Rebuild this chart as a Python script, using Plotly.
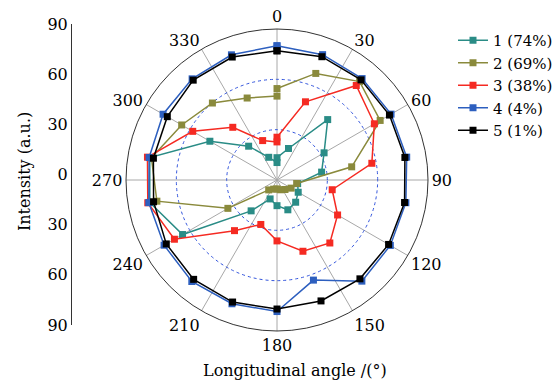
import plotly.graph_objects as go

theta = [0, 20, 40, 60, 80, 100, 120, 140, 160, 180, 200, 220, 240, 260, 280, 300, 320, 340, 360]
series_names = ["1 (74%)", "2 (69%)", "3 (38%)", "4 (4%)", "5 (1%)"]
s1 = [13.3, 20, 47, 32.4, 27, 12.5, 14.6, 17.3, 18.9, 15.3, 12, 24, 65, 77, 77, 46.2, 26.3, 14.4, 10.4]
s2 = [54.5, 67.6, 76.6, 71, 45.2, 11.9, 9.7, 7.4, 6.2, 5.3, 5.8, 7.7, 33.8, 72.7, 76, 65.6, 59.9, 52, 50]
s3 = [25.5, 49.6, 73.5, 67, 57.4, 33.4, 41.7, 49, 45.2, 36.3, 28.2, 39.4, 70.6, 78.2, 78.4, 58, 41, 25, 22.7]
s4 = [80, 79.5, 78.9, 78.5, 78.5, 78, 78, 78.7, 63.5, 78.4, 78.5, 79, 77.7, 77.6, 77.4, 78.4, 78.7, 79.4, 80]
s5 = [77, 78.2, 77.9, 77.4, 77.4, 77.2, 76.8, 76.9, 76.7, 76.9, 77.4, 77.3, 76.2, 74.7, 74.8, 75.5, 77.7, 78, 77]
colors = ["#2A8C86", "#8A8A3C", "#F52A22", "#2D5FBF", "#000000"]

angle_ticks = list(range(0, 360, 30))
left_tickvals = [-90, -60, -30, 0, 30, 60, 90]
left_ticktext = ["90", "60", "30", "0", "30", "60", "90"]

FONT = "DejaVu Serif"

fig = go.Figure()
for name, vals, col in zip(series_names, [s1, s2, s3, s4, s5], colors):
    fig.add_trace(go.Scatterpolar(
        r=vals, theta=theta, mode="lines+markers", name=name,
        line=dict(color=col, width=1.5),
        marker=dict(symbol="square", size=7, color=col),
    ))

# separate left vertical axis
fig.add_trace(go.Scatter(x=[0, 0], y=[-90, 90], mode="markers",
                         marker=dict(opacity=0), showlegend=False,
                         hoverinfo="skip", xaxis="x", yaxis="y"))

fig.update_layout(
    template="none",
    width=558, height=385,
    margin=dict(l=0, r=0, t=0, b=0, autoexpand=False),
    paper_bgcolor="white", plot_bgcolor="rgba(0,0,0,0)",
    font=dict(family=FONT, size=16, color="black"),
    showlegend=True,
    legend=dict(x=1.0, y=1 - 24 / 385, xanchor="right", yanchor="top",
                font=dict(family=FONT, size=15, color="black"),
                bgcolor="rgba(0,0,0,0)", tracegroupgap=0, borderwidth=0),
    polar=dict(
        domain=dict(x=[126 / 558, 428 / 558], y=[1 - 331 / 385, 1 - 29 / 385]),
        bgcolor="white",
        angularaxis=dict(
            rotation=90, direction="clockwise",
            tickmode="array", tickvals=angle_ticks,
            ticktext=[str(a) for a in angle_ticks],
            ticks="", showline=True, linecolor="#333333", linewidth=1,
            showgrid=True, gridcolor="#A8A8A8", gridwidth=1,
            tickfont=dict(family=FONT, size=16, color="black"),
        ),
        radialaxis=dict(
            range=[0, 90], tickmode="array", tickvals=[30, 60],
            showticklabels=False, ticks="", showline=False,
            showgrid=True, gridcolor="#3355DD", gridwidth=1, griddash="dot",
        ),
    ),
    xaxis=dict(domain=[72 / 558, 73 / 558], visible=False, range=[0, 1],
               automargin=False),
    yaxis=dict(
        domain=[1 - 325 / 385, 1 - 24 / 385], range=[-90, 90],
        anchor="x", side="left", automargin=False,
        tickmode="array", tickvals=left_tickvals, ticktext=left_ticktext,
        showline=True, linecolor="#333333", linewidth=1,
        showgrid=False, zeroline=False, ticks="",
        tickfont=dict(family=FONT, size=16, color="black"),
    ),
    annotations=[
        dict(text="Intensity (a.u.)", x=25 / 558, y=1 - 172 / 385,
             xref="paper", yref="paper", textangle=-90, showarrow=False,
             font=dict(family=FONT, size=16, color="black"),
             xanchor="center", yanchor="middle"),
        dict(text="Longitudinal angle /(°)", x=295 / 558, y=1 - 370 / 385,
             xref="paper", yref="paper", showarrow=False,
             font=dict(family=FONT, size=16, color="black"),
             xanchor="center", yanchor="middle"),
    ],
)

fig.write_html(
    "out.html",
    config={"displayModeBar": False},
    post_script="document.body.style.margin='0';document.body.style.padding='0';",
)
